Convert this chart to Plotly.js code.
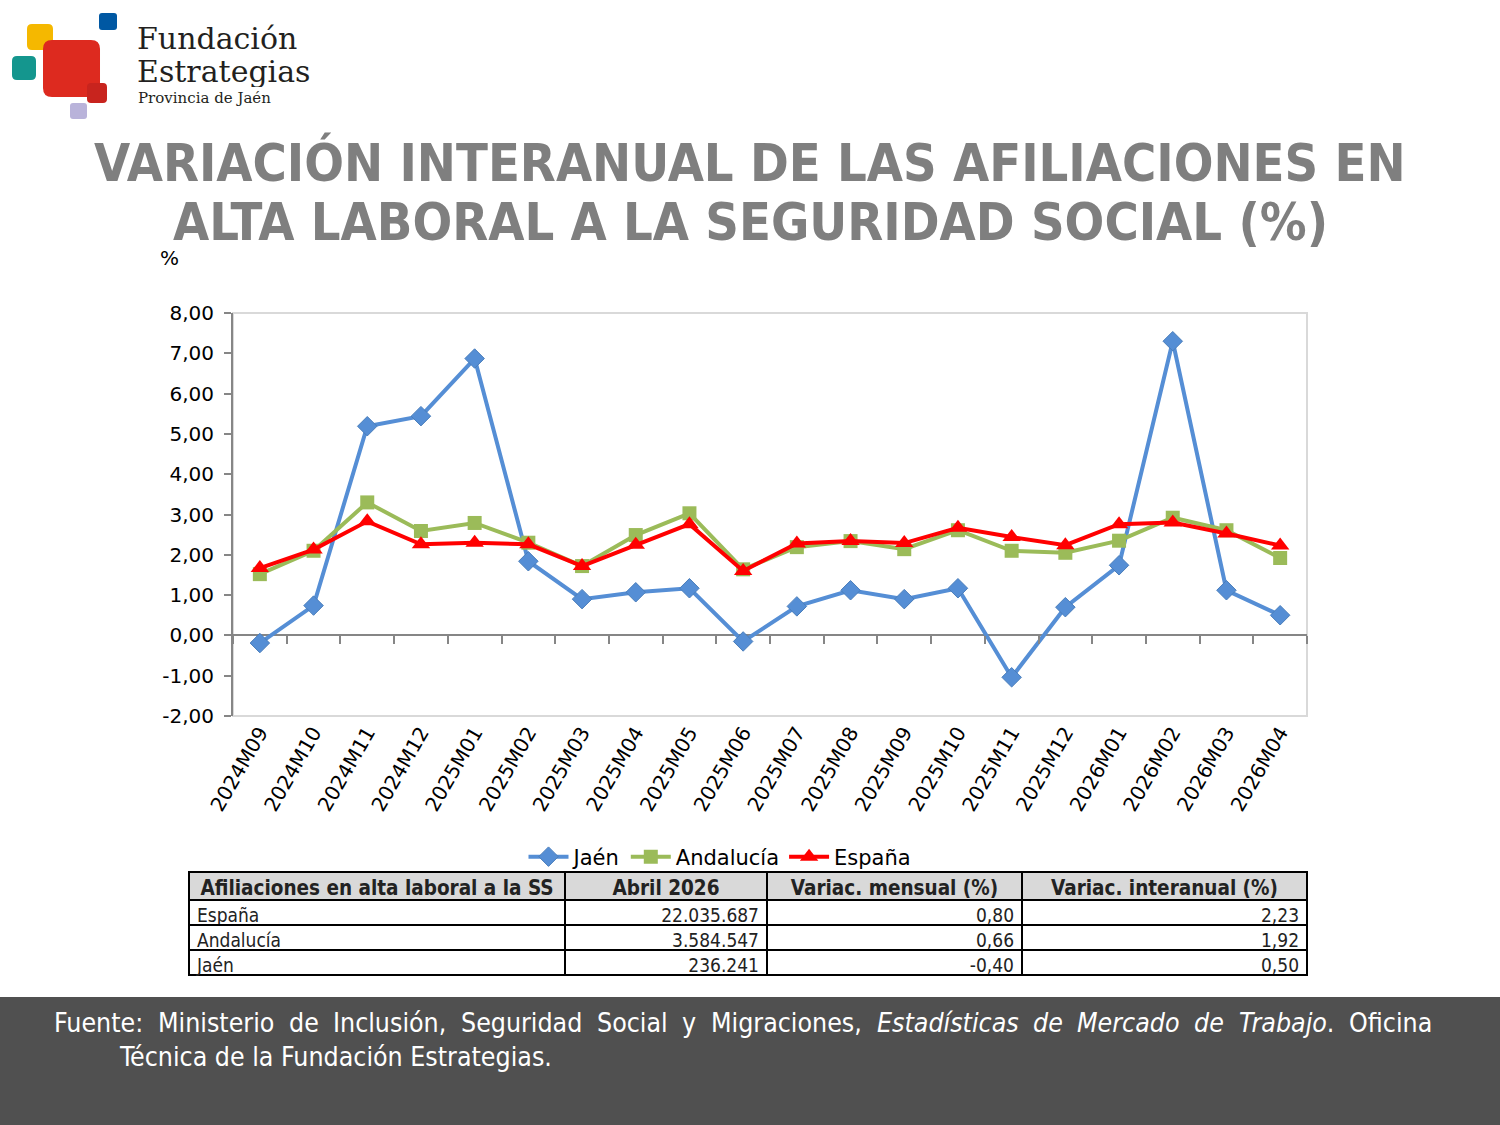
<!DOCTYPE html>
<html><head><meta charset="utf-8">
<script src="https://cdn.plot.ly/plotly-3.0.1.min.js"></script>
<style>body{margin:0;background:#fff}#chart{width:1500px;height:1125px}</style>
</head><body><div id="chart"></div>
<script>
const months = ["2024M09","2024M10","2024M11","2024M12","2025M01","2025M02","2025M03","2025M04","2025M05","2025M06","2025M07","2025M08","2025M09","2025M10","2025M11","2025M12","2026M01","2026M02","2026M03","2026M04"];
const jaen      = [-0.19,0.74,5.19,5.44,6.87,1.84,0.90,1.07,1.17,-0.15,0.72,1.12,0.90,1.17,-1.04,0.70,1.74,7.30,1.12,0.50];
const andalucia = [1.52,2.10,3.30,2.59,2.79,2.30,1.72,2.49,3.03,1.64,2.19,2.34,2.14,2.61,2.10,2.05,2.35,2.92,2.61,1.92];
const espana    = [1.67,2.13,2.83,2.26,2.30,2.26,1.72,2.25,2.76,1.60,2.28,2.34,2.29,2.67,2.44,2.24,2.76,2.80,2.53,2.23];
const yTickVals = [-2,-1,0,1,2,3,4,5,6,7,8];
const yTickText = ["-2,00","-1,00","0,00","1,00","2,00","3,00","4,00","5,00","6,00","7,00","8,00"];

const tableHeader = ["Afiliaciones en alta laboral a la SS","Abril 2026","Variac. mensual (%)","Variac. interanual (%)"];
const tableRegions = ["España","Andalucía","Jaén"];
const tableAbril = ["22.035.687","3.584.547","236.241"];
const tableMensual = ["0,80","0,66","-0,40"];
const tableInteranual = ["2,23","1,92","0,50"];

const titleLines = ["VARIACIÓN INTERANUAL DE LAS AFILIACIONES EN","ALTA LABORAL A LA SEGURIDAD SOCIAL (%)"];
// footer words: [text, italic, trailing normal text]
const footerLine1 = [["Fuente:"],["Ministerio"],["de"],["Inclusión,"],["Seguridad"],["Social"],["y"],["Migraciones,"],
  ["Estadísticas",1],["de",1],["Mercado",1],["de",1],["Trabajo",1,"."],["Oficina"]];
const footerLine2 = "Técnica de la Fundación Estrategias.";

const W=1500,H=1125;
const px=x=>x/W, py=y=>1-y/H;
function rr(x0,y0,x1,y1,r){
  const P=(x,y)=>px(x).toFixed(5)+','+py(y).toFixed(5);
  return 'M'+P(x0+r,y0)+' L'+P(x1-r,y0)+' Q'+P(x1,y0)+' '+P(x1,y0+r)+
    ' L'+P(x1,y1-r)+' Q'+P(x1,y1)+' '+P(x1-r,y1)+' L'+P(x0+r,y1)+' Q'+P(x0,y1)+' '+P(x0,y1-r)+
    ' L'+P(x0,y0+r)+' Q'+P(x0,y0)+' '+P(x0+r,y0)+' Z';
}
function logoShape(x0,y0,x1,y1,r,color){
  return {type:'path',xref:'paper',yref:'paper',path:rr(x0,y0,x1,y1,r),fillcolor:color,line:{width:0},layer:'above'};
}

const xd=[px(233),px(1307)];
const yd=[py(716),py(313)];
const zeroPos = yd[0] + (0-(-2))/10*(yd[1]-yd[0]);
const font='DejaVu Sans';
const condensed='DejaVu Sans Condensed';

const traces=[
 {type:'scatter',mode:'lines+markers',name:'Jaén',x:months,y:jaen,
  line:{color:'#558ED5',width:4},marker:{symbol:'diamond',size:15,color:'#558ED5',line:{color:'#4A7EBB',width:1}}},
 {type:'scatter',mode:'lines+markers',name:'Andalucía',x:months,y:andalucia,
  line:{color:'#9BBB59',width:4},marker:{symbol:'square',size:14,color:'#9BBB59'}},
 {type:'scatter',mode:'lines+markers',name:'España',x:months,y:espana,xaxis:'x2',yaxis:'y',
  line:{color:'#FF0000',width:4},marker:{symbol:'triangle-up',size:16,color:'#FF0000'}},
 {type:'table',domain:{x:[px(189),px(1307)],y:[py(977),py(872)]},
  columnwidth:[376,202,255,285],
  header:{values:tableHeader,align:'center',height:28,fill:{color:'#D9D9D9'},
    line:{color:'#000',width:2},font:{family:condensed,size:20.5,color:'#222',weight:'bold'}},
  cells:{values:[tableRegions,tableAbril,tableMensual,tableInteranual],align:['left','right','right','right'],height:25,
    fill:{color:'#fff'},line:{color:'#000',width:2},font:{family:condensed,size:19,color:'#222'}}}
];

// footer justification via canvas measurement
const fSize=26.5;
const cv=document.createElement('canvas').getContext('2d');
function tw(t,it){cv.font=(it?'italic ':'')+fSize+'px "'+condensed+'"';return cv.measureText(t).width;}
const fx0=52,fx1=1430;
const wWidths=footerLine1.map(w=>tw(w[0],w[1])+(w[2]?tw(w[2],0):0));
const total=wWidths.reduce((a,b)=>a+b,0);
const gap=(fx1-fx0-total)/(footerLine1.length-1);
const footerAnn=[];
let cx=fx0;
footerLine1.forEach((w,i)=>{
  const txt=(w[1]?'<i>'+w[0]+'</i>':w[0])+(w[2]||'');
  footerAnn.push({text:txt,xref:'paper',yref:'paper',x:px(cx),y:py(1022),xanchor:'left',yanchor:'middle',showarrow:false,
    font:{family:condensed,size:fSize,color:'#fff'}});
  cx+=wWidths[i]+gap;
});
footerAnn.push({text:footerLine2,xref:'paper',yref:'paper',x:px(117),y:py(1056),xanchor:'left',yanchor:'middle',showarrow:false,
    font:{family:condensed,size:fSize,color:'#fff'}});

const layout={
 width:W,height:H,margin:{l:0,r:0,t:0,b:0},paper_bgcolor:'#fff',plot_bgcolor:'#fff',
 font:{family:font,color:'#000'},separators:',.',
 xaxis:{domain:xd,type:'category',categoryarray:months,range:[-0.5,19.5],showgrid:false,zeroline:false,
   showline:false,ticks:'',tickangle:-60,tickfont:{size:20,color:'#000'},fixedrange:true},
 xaxis2:{overlaying:'x',anchor:'free',position:zeroPos,domain:xd,type:'category',categoryarray:months,range:[-0.5,19.5],
   showgrid:false,zeroline:false,showline:false,showticklabels:false,ticks:'outside',tickson:'boundaries',
   ticklen:8,tickwidth:2,tickcolor:'#868686'},
 yaxis:{domain:yd,range:[-2,8],tickmode:'array',tickvals:yTickVals,ticktext:yTickText,showgrid:false,showline:true,linecolor:'#868686',linewidth:2,
   ticks:'outside',ticklen:7,tickwidth:2,tickcolor:'#868686',zeroline:true,zerolinecolor:'#868686',zerolinewidth:2,
   ticklabelstandoff:6,tickfont:{size:20,color:'#000'},fixedrange:true},
 showlegend:true,
 legend:{orientation:'h',x:0.48,xanchor:'center',y:py(857),yanchor:'middle',font:{size:21,color:'#000'},
   itemwidth:40,tracegroupgap:0,bgcolor:'rgba(0,0,0,0)'},
 shapes:[
   {type:'rect',xref:'x domain',yref:'y domain',x0:0,x1:1,y0:0,y1:1,line:{color:'#D9D9D9',width:2},layer:'below'},
   {type:'rect',xref:'paper',yref:'paper',x0:0,x1:1,y0:0,y1:py(997),fillcolor:'#505050',line:{width:0},layer:'below'},
   logoShape(99,13,117,30,3,'#0058A3'),
   logoShape(27,24,53,50,5,'#F5B800'),
   logoShape(12,56,36,80,5,'#14968E'),
   logoShape(43,40,100,97,9,'#DD2A1F'),
   logoShape(87,83,107,103,4,'#C8241E'),
   logoShape(70,103,87,119,3,'#B9B3DA')
 ],
 annotations:[
   {text:titleLines[0],xref:'paper',yref:'paper',x:0.5,y:py(162),xanchor:'center',yanchor:'middle',showarrow:false,
    font:{family:condensed,size:52,color:'#7F7F7F',weight:'bold'}},
   {text:titleLines[1],xref:'paper',yref:'paper',x:0.5,y:py(222),xanchor:'center',yanchor:'middle',showarrow:false,
    font:{family:condensed,size:52,color:'#7F7F7F',weight:'bold'}},
   {text:'Fundación',xref:'paper',yref:'paper',x:px(135),y:py(39),xanchor:'left',yanchor:'middle',showarrow:false,height:31,
    font:{family:'DejaVu Serif',size:30,color:'#231F20'}},
   {text:'Estrategias',xref:'paper',yref:'paper',x:px(135),y:py(71),xanchor:'left',yanchor:'middle',showarrow:false,height:31,
    font:{family:'DejaVu Serif',size:30,color:'#231F20'}},
   {text:'Provincia de Jaén',xref:'paper',yref:'paper',x:px(136),y:py(98),xanchor:'left',yanchor:'middle',showarrow:false,
    font:{family:'DejaVu Serif',size:15,color:'#231F20'}},
   {text:'%',xref:'paper',yref:'paper',x:px(169),y:py(258),xanchor:'center',yanchor:'middle',showarrow:false,
    font:{size:20,color:'#000'}},
   ...footerAnn
 ]
};
Plotly.newPlot('chart',traces,layout,{displayModeBar:false,staticPlot:true});
</script></body></html>
